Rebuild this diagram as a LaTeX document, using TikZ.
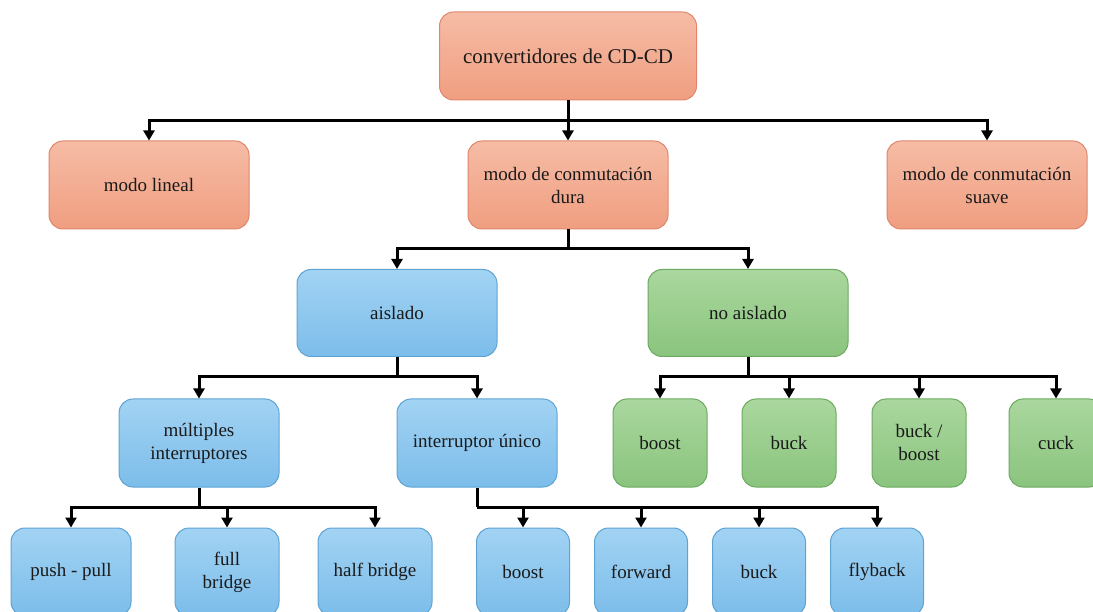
\documentclass[tikz,border=0pt]{standalone}
\usepackage{fontspec}
\setmainfont{Liberation Serif}
\usetikzlibrary{arrows.meta}

\definecolor{salmonTop}{HTML}{F6BCA6}
\definecolor{salmonBot}{HTML}{F09E80}
\definecolor{salmonLine}{HTML}{E0866A}
\definecolor{blueTop}{HTML}{A2D3F3}
\definecolor{blueBot}{HTML}{7CBDEA}
\definecolor{blueLine}{HTML}{5FA3D3}
\definecolor{greenTop}{HTML}{AAD79E}
\definecolor{greenBot}{HTML}{8AC47E}
\definecolor{greenLine}{HTML}{6CAA5F}
\definecolor{inkText}{HTML}{1A1A1A}

\tikzset{
  card/.style={rounded corners=14pt, line width=1pt, align=center,
    inner sep=2pt, text=inkText, font=\fontsize{19}{23}\selectfont},
  redcard/.style={card, draw=salmonLine, top color=salmonTop, bottom color=salmonBot},
  bluecard/.style={card, draw=blueLine, top color=blueTop, bottom color=blueBot},
  greencard/.style={card, draw=greenLine, top color=greenTop, bottom color=greenBot},
  link/.style={line width=3pt, line join=miter},
  arrowlink/.style={link, -{Triangle[width=11pt,length=10pt]}},
}

\begin{document}
\begin{tikzpicture}[x=1pt,y=-1pt]
\useasboundingbox (0,0) rectangle (1093,612);
\clip (0,0) rectangle (1093,612);

% root
\node[redcard, minimum width=257pt, minimum height=88pt,
      font=\fontsize{21}{25}\selectfont] (root) at (568,56) {convertidores de CD-CD};

% switching modes
\node[redcard, minimum width=200pt, minimum height=88pt] (lin) at (149,185) {modo lineal};
\node[redcard, minimum width=200pt, minimum height=88pt] (dura) at (568,185) {modo de conmutación\\dura};
\node[redcard, minimum width=200pt, minimum height=88pt] (suave) at (987,185) {modo de conmutación\\suave};

% isolation
\node[bluecard, minimum width=200pt, minimum height=87pt] (ais) at (397,313) {aislado};
\node[greencard, minimum width=200pt, minimum height=87pt] (noais) at (748,313) {no aislado};

% isolated families
\node[bluecard, minimum width=160pt, minimum height=88pt] (mult) at (199,443) {múltiples\\interruptores};
\node[bluecard, minimum width=160pt, minimum height=88pt] (unico) at (477,443) {interruptor único};

% non-isolated topologies
\node[greencard, minimum width=94pt, minimum height=88pt] (nboost) at (660,443) {boost};
\node[greencard, minimum width=94pt, minimum height=88pt] (nbuck) at (789,443) {buck};
\node[greencard, minimum width=94pt, minimum height=88pt] (nbb) at (919,443) {buck /\\boost};
\node[greencard, minimum width=94pt, minimum height=88pt] (ncuck) at (1056,443) {cuck};

% multi-switch topologies
\node[bluecard, minimum width=120pt, minimum height=88pt] (pp) at (71,572) {push - pull};
\node[bluecard, minimum width=104pt, minimum height=88pt] (fb) at (227,572) {full\\bridge};
\node[bluecard, minimum width=114pt, minimum height=88pt] (hb) at (375,572) {half bridge};

% single-switch topologies
\node[bluecard, minimum width=93pt, minimum height=88pt] (sboost) at (523,572) {boost};
\node[bluecard, minimum width=93pt, minimum height=88pt] (sfwd) at (641,572) {forward};
\node[bluecard, minimum width=93pt, minimum height=88pt] (sbuck) at (759,572) {buck};
\node[bluecard, minimum width=93pt, minimum height=88pt] (sfly) at (877,572) {flyback};

% bus junctions
\coordinate (b1) at (root.south |- 0,121);
\coordinate (b2) at (dura.south |- 0,249);
\coordinate (b3) at (ais.south |- 0,377);
\coordinate (b4) at (noais.south |- 0,377);
\coordinate (b5) at (mult.south |- 0,507);
\coordinate (b6) at (unico.south |- 0,507);

% connectors
\draw[link] (root.south) -- (b1);
\foreach \n in {lin,dura,suave} \draw[arrowlink] (b1) -| (\n.north);

\draw[link] (dura.south) -- (b2);
\foreach \n in {ais,noais} \draw[arrowlink] (b2) -| (\n.north);

\draw[link] (ais.south) -- (b3);
\foreach \n in {mult,unico} \draw[arrowlink] (b3) -| (\n.north);

\draw[link] (noais.south) -- (b4);
\foreach \n in {nboost,nbuck,nbb,ncuck} \draw[arrowlink] (b4) -| (\n.north);

\draw[link] (mult.south) -- (b5);
\foreach \n in {pp,fb,hb} \draw[arrowlink] (b5) -| (\n.north);

\draw[link] (unico.south) -- (b6);
\foreach \n in {sboost,sfwd,sbuck,sfly} \draw[arrowlink] (b6) -| (\n.north);
\end{tikzpicture}
\end{document}
